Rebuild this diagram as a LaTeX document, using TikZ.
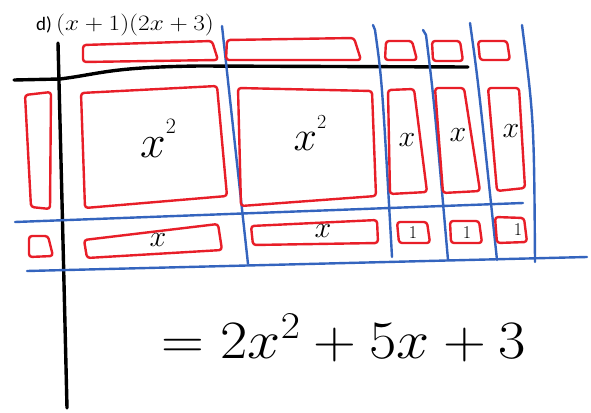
\RequirePackage{fix-cm}
\documentclass[tikz,border=0pt]{standalone}
\usepackage{fontspec}
\newfontfamily\calfont{Carlito}
\definecolor{tred}{RGB}{232,30,40}
\definecolor{tblue}{RGB}{52,100,190}
\begin{document}
\begin{tikzpicture}[x=1pt,y=-1pt,
  redtile/.style={draw=tred,line width=2.4pt,rounded corners=3pt,line join=round},
  blueline/.style={draw=tblue,line width=2.4pt,line cap=round},
  axisline/.style={draw=black,line width=3.4pt,line cap=round},
  lbl/.style={inner sep=0pt,font=\fontsize{30}{32}\selectfont},
  one/.style={inner sep=0pt,font=\fontsize{18}{20}\selectfont}]
\useasboundingbox[fill=white] (0,0) rectangle (591,412);
% title
\node[anchor=base west,inner sep=0pt] (title) at (36,31)
  {\fontsize{19}{22}\selectfont\calfont d) \scalebox{1.15}[1]{\fontsize{22}{24}\selectfont$(x+1)(2x+3)$}};
% black axes
\draw[axisline] (58,43) .. controls (62,200) .. (67,408);
\draw[axisline] (14,80) -- (60,79) .. controls (100,74) and (110,67) .. (200,66) -- (468,67);
% blue lines
\draw[blueline] (222,26) -- (248,264);
\draw[blueline] (373,25) -- (375,30) .. controls (382,80) .. (392,257);
\draw[blueline] (423,30) -- (426,35) .. controls (434,100) .. (448,260);
\draw[blueline] (470,23) .. controls (478,80) .. (497,260);
\draw[blueline] (522,25) .. controls (534,120) .. (535,262);
\draw[blueline] (15,222) -- (523,203);
\draw[blueline] (27,271) -- (587,257);
% top row tiles
\draw[redtile] (83,62) -- (83,45) -- (212,41) -- (218,60) -- cycle;
\draw[redtile] (226,60) -- (227,40) -- (354,38) -- (361,60) -- cycle;
\draw[redtile] (385,60) -- (386,41) -- (412,41) -- (417,60) -- cycle;
\draw[redtile] (433,61) -- (432,41) -- (460,41) -- (463,61) -- cycle;
\draw[redtile] (480,60) -- (478,41) -- (507,41) -- (510,60) -- cycle;
% left column tiles
\draw[redtile] (25,95) -- (51,92) -- (50,209) -- (31,207) -- cycle;
\draw[redtile] (29,236) -- (48,236) -- (53,256) -- (29,257) -- cycle;
% x^2 tiles
\draw[redtile] (81,93) -- (217,86) -- (227,196) -- (85,208) -- cycle;
\draw[redtile] (238,88) -- (372,91) -- (376,196) -- (241,206) -- cycle;
% vertical x tiles
\draw[redtile] (388,90) -- (414,89) -- (427,192) -- (390,194) -- cycle;
\draw[redtile] (435,88) -- (464,88) -- (480,191) -- (443,193) -- cycle;
\draw[redtile] (488,88) -- (519,88) -- (525,188) -- (497,191) -- cycle;
% bottom row tiles
\draw[redtile] (84,240) -- (218,224) -- (222,250) -- (87,258) -- cycle;
\draw[redtile] (251,226) -- (377,220) -- (378,243) -- (253,245) -- cycle;
\draw[redtile] (397,222) -- (427,222) -- (430,243) -- (399,243) -- cycle;
\draw[redtile] (450,221) -- (479,221) -- (482,243) -- (451,243) -- cycle;
\draw[redtile] (495,217) -- (524,218) -- (527,242) -- (497,243) -- cycle;
% labels
\node[inner sep=0pt] (sq1) at (158,138) {\fontsize{46}{46}\selectfont$x$\raisebox{24pt}{\fontsize{22}{22}\selectfont 2}};
\node[inner sep=0pt] (sq2) at (310,133) {\fontsize{42}{42}\selectfont$x$\raisebox{22pt}{\fontsize{20}{20}\selectfont 2}};
\node[lbl] (xa) at (407,140) {$x$};
\node[lbl] (xb) at (458,135) {$x$};
\node[lbl] (xc) at (511,131) {$x$};
\node[lbl] (xd) at (158,240) {$x$};
\node[lbl] (xe) at (323,231) {$x$};
\node[one] (oa) at (413,233) {1};
\node[one] (ob) at (467,233) {1};
\node[one] (oc) at (518,230) {1};
% result
\node[anchor=base west,inner sep=0pt,xscale=1.1] (res) at (161,358)
  {\fontsize{54}{58}\selectfont$=2x^{2}+5x+3$};
\end{tikzpicture}
\end{document}
